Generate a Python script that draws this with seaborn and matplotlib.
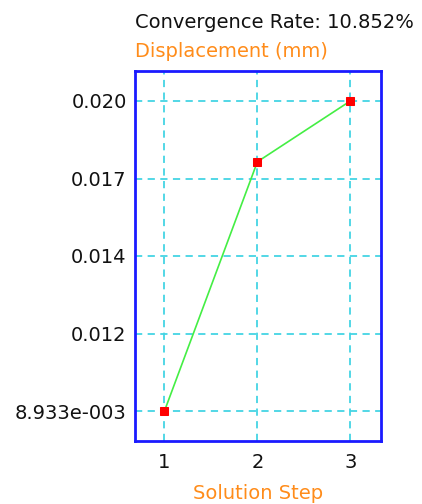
import numpy as np
import pandas as pd
import matplotlib
matplotlib.use("Agg")
import matplotlib.pyplot as plt
import seaborn as sns

steps = [1, 2, 3]
displacement = [0.008933, 0.01783, 0.020]
ytick_values = [0.008933, 0.0117, 0.01447, 0.01723, 0.020]
ytick_labels = ["8.933e-003", "0.012", "0.014", "0.017", "0.020"]
xtick_labels = ["1", "2", "3"]
title_text = "Convergence Rate: 10.852%"
ylabel_text = "Displacement (mm)"
xlabel_text = "Solution Step"

sns.set_style("white")
plt.rcParams["font.family"] = ["DejaVu Sans"]

df = pd.DataFrame({"step": steps, "disp": displacement})

fig = plt.figure(figsize=(4.22, 5.04), dpi=100)
ax = fig.add_axes([135/422, 1-441/504, (381-135)/422, (441-71)/504])

sns.lineplot(data=df, x="step", y="disp", ax=ax, color="#44ee44", linewidth=1.2,
             marker="s", markersize=6, markerfacecolor="#ff0000",
             markeredgecolor="#ff0000", zorder=3)

ax.set_xlim(0.683, 3.33)
ax.set_ylim(0.007863, 0.02107)
ax.set_xticks(steps)
ax.set_xticklabels(xtick_labels)
ax.set_yticks(ytick_values)
ax.set_yticklabels(ytick_labels)

ax.grid(True, color="#44d4e4", linestyle=(0, (4, 3)), linewidth=1.3)
ax.set_axisbelow(True)
for s in ax.spines.values():
    s.set_color("#1a1aff")
    s.set_linewidth(2)
    s.set_visible(True)

fs = 14
ax.tick_params(axis="both", length=0, labelsize=fs, colors="#111111")
ax.tick_params(axis="y", pad=6)
ax.tick_params(axis="x", pad=9)
ax.set_xlabel(xlabel_text, color="#ff8c1a", fontsize=fs, labelpad=8)
ax.set_ylabel("")

fig.text(135/422, 1-28/504, title_text, ha="left", va="baseline", fontsize=fs, color="#111111")
fig.text(135/422, 1-57/504, ylabel_text, ha="left", va="baseline", fontsize=fs, color="#ff8c1a")

fig.savefig("out.png", dpi=100)
